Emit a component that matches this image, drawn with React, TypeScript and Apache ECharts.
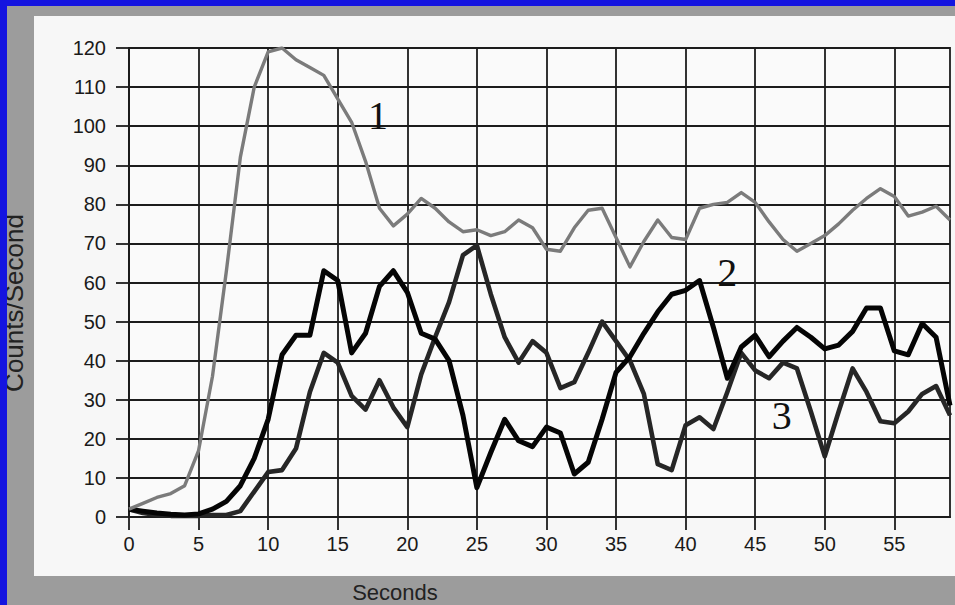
import React, { useEffect, useRef } from "react";
import * as echarts from "echarts";

const seconds = [
  0, 1, 2, 3, 4, 5, 6, 7, 8, 9, 10, 11, 12, 13, 14, 15, 16, 17, 18, 19,
  20, 21, 22, 23, 24, 25, 26, 27, 28, 29, 30, 31, 32, 33, 34, 35, 36, 37, 38, 39,
  40, 41, 42, 43, 44, 45, 46, 47, 48, 49, 50, 51, 52, 53, 54, 55, 56, 57, 58, 59,
];

const series1 = [
  2, 3.5, 5, 6, 8, 17, 36, 63, 92, 110, 119, 120, 117, 115, 113, 107, 101, 91, 79, 74.5,
  77.5, 81.5, 79, 75.5, 73, 73.5, 72, 73, 76, 74, 68.5, 68, 74, 78.5, 79, 71.5, 64, 70.5, 76, 71.5,
  71, 79, 80, 80.5, 83, 80.5, 75.5, 71, 68, 70, 72, 75, 78.5, 81.5, 84, 82, 77, 78, 79.5, 76,
];

const series2 = [
  2, 1.5, 1, 0.7, 0.5, 0.8, 2, 4, 8, 15, 25, 41.5, 46.5, 46.5, 63, 60.5, 42, 47, 59, 63,
  57.5, 47, 45.5, 40, 26, 7.5, 16.5, 25, 19.5, 18, 23, 21.5, 11, 14, 25, 37, 41, 47, 52.5, 57,
  58, 60.5, 48.5, 35.5, 43.5, 46.5, 41, 45, 48.5, 46, 43, 44, 47.5, 53.5, 53.5, 42.5, 41.5, 49.5, 46, 28.5,
];

const series3 = [
  2, 1, 0.5, 0.3, 0.3, 0.3, 0.5, 0.5, 1.5, 6.5, 11.5, 12, 17.5, 32, 42, 39.5, 31, 27.5, 35, 28,
  23, 36.5, 46, 55, 67, 69.5, 57, 46, 39.5, 45, 42, 33, 34.5, 42, 50, 45, 40, 31.5, 13.5, 12,
  23.5, 25.5, 22.5, 32, 42, 37.5, 35.5, 39.5, 38, 27, 15.5, 27, 38, 32, 24.5, 24, 27, 31.5, 33.5, 26,
];

const xTicks = [0, 5, 10, 15, 20, 25, 30, 35, 40, 45, 50, 55];
const yTicks = [0, 10, 20, 30, 40, 50, 60, 70, 80, 90, 100, 110, 120];

const seriesNames = ["1", "2", "3"];
// annotation anchor points (data coordinates) for the curve numbers
const labelCoords = [
  [17.9, 102.7],
  [43.0, 62.6],
  [46.9, 26],
];

const xTitle = "Seconds";
const yTitle = "Counts/Second";

const SANS = "Liberation Sans, Arial, Helvetica, sans-serif";
const SERIF = "Liberation Serif, Times New Roman, serif";

export default function App() {
  const ref = useRef<HTMLDivElement>(null);

  useEffect(() => {
    if (!ref.current) return;
    const chart = echarts.init(ref.current, undefined, { renderer: "svg" });

    const pair = (vals: number[]) => seconds.map((s, i) => [s, vals[i]]);
    const allSeries = [series1, series2, series3];
    const colors = ["#7b7b7b", "#050505", "#262626"];
    const widths = [3.4, 5, 4.6];

    const gridLine = { color: "#1c1c1c", width: 1.8 };
    const tickText = { fontSize: 20, fontFamily: SANS, color: "#1a1a1a" };

    const option: any = {
      animation: false,
      backgroundColor: "#1414e0",
      graphic: [
        {
          type: "rect",
          z: -20,
          silent: true,
          shape: { x: 7, y: 6, width: 948, height: 599 },
          style: { fill: "#9c9c9c" },
        },
        {
          type: "rect",
          z: -19,
          silent: true,
          shape: { x: 34, y: 16, width: 921, height: 560 },
          style: { fill: "#f7f7f7" },
        },
        {
          type: "text",
          z: 5,
          x: 14,
          y: 303,
          rotation: Math.PI / 2,
          style: {
            text: yTitle,
            fontSize: 26,
            fontFamily: SANS,
            fill: "#222",
            textAlign: "center",
            textVerticalAlign: "middle",
            align: "center",
            verticalAlign: "middle",
          },
        },
        {
          type: "rect",
          z: 50,
          silent: true,
          shape: { x: 0, y: 0, width: 7, height: 605 },
          style: { fill: "#1414e0" },
        },
        {
          type: "text",
          z: 5,
          x: 395,
          y: 592,
          style: {
            text: xTitle,
            fontSize: 22,
            fontFamily: SANS,
            fill: "#222",
            textAlign: "center",
            textVerticalAlign: "middle",
            align: "center",
            verticalAlign: "middle",
          },
        },
      ],
      grid: {
        left: 129,
        right: 5,
        top: 48,
        bottom: 88,
        show: true,
        backgroundColor: "#fafafa",
        borderColor: "#1c1c1c",
        borderWidth: 1.8,
      },
      xAxis: {
        type: "value",
        min: 0,
        max: 59,
        interval: 5,
        axisLine: { show: true, onZero: false, lineStyle: gridLine },
        axisTick: {
          show: true,
          length: 13,
          customValues: xTicks,
          lineStyle: gridLine,
        },
        axisLabel: {
          show: true,
          margin: 17,
          ...tickText,
          formatter: (v: number) => (xTicks.indexOf(v) >= 0 ? String(v) : ""),
        },
        splitLine: { show: true, lineStyle: gridLine },
      },
      yAxis: {
        type: "value",
        min: 0,
        max: 120,
        interval: 10,
        axisLine: { show: true, onZero: false, lineStyle: gridLine },
        axisTick: {
          show: true,
          length: 13,
          lineStyle: gridLine,
        },
        axisLabel: {
          show: true,
          margin: 23,
          ...tickText,
          formatter: (v: number) => (yTicks.indexOf(v) >= 0 ? String(v) : ""),
        },
        splitLine: { show: true, lineStyle: gridLine },
      },
      series: allSeries.map((vals, i) => ({
        type: "line",
        name: seriesNames[i],
        data: pair(vals),
        showSymbol: false,
        symbol: "none",
        smooth: false,
        z: 3 + (2 - i),
        lineStyle: { color: colors[i], width: widths[i], join: "round" },
        markPoint: {
          silent: true,
          symbol: "circle",
          symbolSize: 1,
          itemStyle: { color: "rgba(0,0,0,0)" },
          label: {
            show: true,
            position: "inside",
            formatter: seriesNames[i],
            fontSize: 40,
            fontFamily: SERIF,
            color: "#111",
          },
          data: [{ coord: labelCoords[i] }],
        },
      })),
    };

    chart.setOption(option);
    return () => chart.dispose();
  }, []);

  return (
    <div
      ref={ref}
      style={{ position: "fixed", left: 0, top: 0, width: 955, height: 605 }}
    />
  );
}
